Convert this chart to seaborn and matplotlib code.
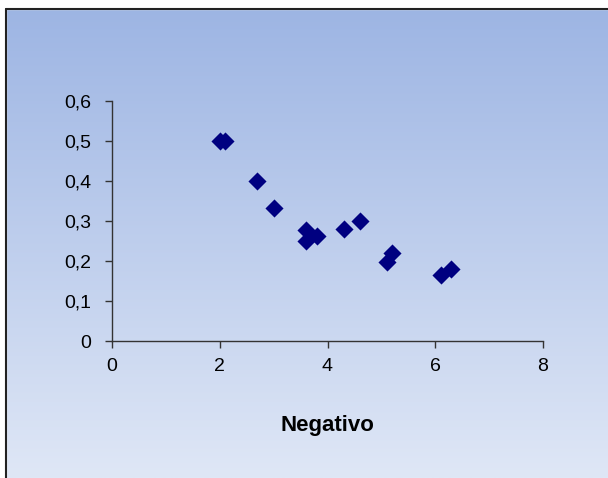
import numpy as np
import pandas as pd
import matplotlib
matplotlib.use("Agg")
import matplotlib.pyplot as plt
import seaborn as sns
from matplotlib.patches import Rectangle
from matplotlib.colors import LinearSegmentedColormap

negativo = [2.0, 2.1, 2.7, 3.0, 3.6, 3.6, 3.8, 4.3, 4.6, 5.1, 5.2, 6.1, 6.3]
valores = [0.5, 0.5, 0.4, 0.333, 0.278, 0.25, 0.263, 0.28, 0.3, 0.197, 0.22, 0.166, 0.181]
x_ticks = [0, 2, 4, 6, 8]
y_ticks = [0, 0.1, 0.2, 0.3, 0.4, 0.5, 0.6]
y_labels = ["0", "0,1", "0,2", "0,3", "0,4", "0,5", "0,6"]

df = pd.DataFrame({"Negativo": negativo, "Valor": valores})

sns.set_style("white")
plt.rcParams['font.family'] = ['Liberation Sans', 'DejaVu Sans']

fig = plt.figure(figsize=(6.08, 4.78), dpi=100)

# background gradient
bg = fig.add_axes([0, 0, 1, 1], zorder=-10)
grad = np.linspace(0, 1, 256).reshape(-1, 1)
cmap = LinearSegmentedColormap.from_list("bg", ["#9cb4e3", "#dfe7f6"])
bg.imshow(grad, aspect="auto", cmap=cmap, extent=[0, 1, 0, 1], origin="upper")
bg.set_xlim(0, 1); bg.set_ylim(0, 1)
bg.axis("off")
bg.add_patch(Rectangle((0, 1 - 9/478), 1, 9/478, color="white", zorder=2))
bg.add_patch(Rectangle((0, 0), 6/608, 1, color="white", zorder=2))
bg.plot([6/608, 6/608], [0, 1 - 9/478], color="#222222", lw=1.5, zorder=3)
bg.plot([6/608, 1], [1 - 9/478, 1 - 9/478], color="#222222", lw=1.5, zorder=3)

ax = fig.add_axes([112/608, 1 - 341/478, 431/608, 240/478])
ax.patch.set_alpha(0)
sns.scatterplot(data=df, x="Negativo", y="Valor", marker="D", color="#000080",
                s=85, edgecolor="#000080", linewidth=0, ax=ax, zorder=3)
ax.set_xlim(0, 8)
ax.set_ylim(0, 0.6)
ax.set_xticks(x_ticks)
ax.set_xticklabels([str(t) for t in x_ticks])
ax.set_yticks(y_ticks)
ax.set_yticklabels(y_labels)
for s in ["top", "right"]:
    ax.spines[s].set_visible(False)
for s in ["left", "bottom"]:
    ax.spines[s].set_color("#333333")
    ax.spines[s].set_linewidth(1.0)
ax.tick_params(axis="both", direction="out", length=5, width=1, color="#333333",
               labelsize=14, labelcolor="black", left=True, bottom=True)
ax.tick_params(axis="y", pad=10)
ax.tick_params(axis="x", pad=7)
ax.set_xlabel("Negativo", fontsize=16, fontweight="bold", color="black", labelpad=29)
ax.set_ylabel("")

fig.savefig("out.png", dpi=100)
